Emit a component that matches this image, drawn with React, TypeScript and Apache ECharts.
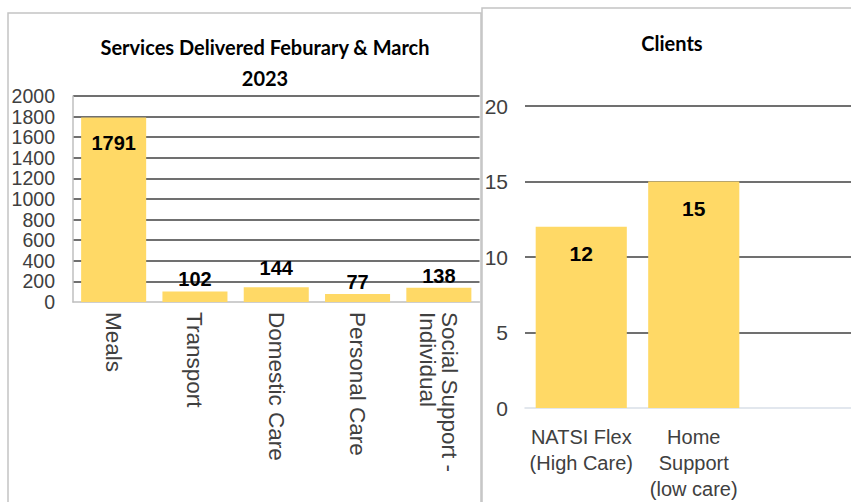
import React, { useEffect, useRef } from "react";
import * as echarts from "echarts";

const serviceCategories = ["Meals", "Transport", "Domestic Care", "Personal Care", "Social Support -\nIndividual"];
const serviceValues = [1791, 102, 144, 77, 138];
const clientCategories = ["NATSI Flex\n(High Care)", "Home\nSupport\n(low care)", ""];
const clientValues = [12, 15];

const BAR = "#FFD966";
const GRID = "#404040";
const TXT = "#404040";

export default function App() {
  const ref = useRef<HTMLDivElement>(null);
  useEffect(() => {
    const chart = echarts.init(ref.current!, null, { renderer: "svg" });
    chart.setOption({
      animation: false,
      backgroundColor: "#ffffff",
      title: [
        {
          text: "Services Delivered Feburary & March\n2023",
          left: 265,
          top: 31,
          padding: 0,
          textAlign: "center",
          textStyle: { fontFamily: "Lato", fontWeight: "bold", fontSize: 20, lineHeight: 31, color: "#000" },
        },
        {
          text: "Clients",
          left: 672,
          top: 28,
          padding: 0,
          textAlign: "center",
          textStyle: { fontFamily: "Lato", fontWeight: "bold", fontSize: 20, lineHeight: 30, color: "#000" },
        },
      ],
      graphic: [
        { type: "rect", shape: { x: 8, y: 13, width: 473, height: 500 }, style: { fill: "none", stroke: "#c4c4c4", lineWidth: 1.5 }, silent: true },
        { type: "rect", shape: { x: 482, y: 8, width: 400, height: 520 }, style: { fill: "none", stroke: "#c4c4c4", lineWidth: 1.5 }, silent: true },
      ],
      grid: [
        { left: 73, top: 96, width: 406.5, height: 206, outerBoundsMode: "none", containLabel: false },
        { left: 525, top: 106, width: 337.5, height: 302, outerBoundsMode: "none", containLabel: false },
      ],
      xAxis: [
        {
          type: "category",
          gridIndex: 0,
          data: serviceCategories,
          axisLine: { lineStyle: { color: "#bfbfbf", width: 1.5 } },
          axisTick: { show: false },
          axisLabel: { interval: 0, rotate: -90, fontFamily: "Liberation Sans", fontSize: 22.5, lineHeight: 22, color: TXT, margin: 10 },
        },
        {
          type: "category",
          gridIndex: 1,
          data: clientCategories,
          axisLine: { lineStyle: { color: "#d9dfe8", width: 1.5 } },
          axisTick: { show: false },
          axisLabel: { interval: 0, fontFamily: "Liberation Sans", fontSize: 20, lineHeight: 26, color: TXT, margin: 16 },
        },
      ],
      yAxis: [
        {
          type: "value",
          gridIndex: 0,
          min: 0,
          max: 2000,
          interval: 200,
          axisLine: { show: true, lineStyle: { color: "#bfbfbf", width: 1.5 } },
          axisTick: { show: false },
          axisLabel: { fontFamily: "Liberation Sans", fontSize: 19.5, color: TXT, margin: 18, formatter: (v: number) => String(v) },
          splitLine: { showMinLine: false, lineStyle: { color: GRID, width: 1.5 } },
        },
        {
          type: "value",
          gridIndex: 1,
          min: 0,
          max: 20,
          interval: 5,
          axisLine: { show: false },
          axisTick: { show: false },
          axisLabel: { fontFamily: "Liberation Sans", fontSize: 21, color: TXT, margin: 17 },
          splitLine: { showMinLine: false, lineStyle: { color: GRID, width: 1.5 } },
        },
      ],
      series: [
        {
          type: "bar",
          xAxisIndex: 0,
          yAxisIndex: 0,
          barCategoryGap: "20%",
          itemStyle: { color: BAR },
          data: serviceValues.map((v, i) => ({
            value: v,
            label: i === 0 ? { position: "insideTop", distance: 15 } : i === 2 ? { distance: 9 } : undefined,
          })),
          label: {
            show: true,
            position: "top",
            distance: 2,
            fontFamily: "Liberation Sans",
            fontWeight: "bold",
            fontSize: 20,
            color: "#000",
          },
        },
        {
          type: "bar",
          xAxisIndex: 1,
          yAxisIndex: 1,
          barCategoryGap: "19%",
          itemStyle: { color: BAR },
          data: clientValues,
          label: {
            show: true,
            position: "insideTop",
            distance: 16,
            fontFamily: "Liberation Sans",
            fontWeight: "bold",
            fontSize: 21,
            color: "#000",
          },
        },
      ],
    });
    return () => chart.dispose();
  }, []);
  return <div ref={ref} style={{ position: "absolute", left: 0, top: 0, width: 851, height: 502 }} />;
}
